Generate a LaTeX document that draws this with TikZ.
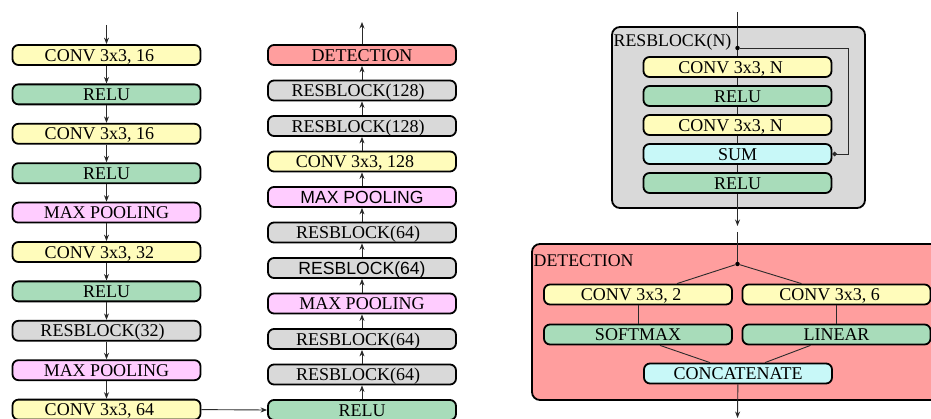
\documentclass[tikz,border=0pt]{standalone}
\usepackage{fontspec}
\setmainfont{Liberation Serif}
\newfontfamily\sansf{Liberation Sans}
\usetikzlibrary{arrows.meta,calc}

\definecolor{cyell}{HTML}{FFFCBB}
\definecolor{cgreen}{HTML}{A8DCBA}
\definecolor{cpink}{HTML}{FFCCFF}
\definecolor{cgray}{HTML}{D9D9D9}
\definecolor{cred}{HTML}{FF9E9E}
\definecolor{ccyan}{HTML}{C8F8F8}
\definecolor{cline}{HTML}{2A2A2A}

\tikzset{
  blk/.style={draw=black, line width=1.8pt, rounded corners=6pt,
    minimum width=188pt, minimum height=20pt, inner sep=0pt,
    text height=12.2pt, text depth=0pt,
    font=\fontsize{18}{20}\selectfont, text=black},
  sansblk/.style={font=\sansf\fontsize{17.6}{20}\selectfont},
  conv/.style={blk, fill=cyell, execute at end node={\hspace*{14pt}}},
  relu/.style={blk, fill=cgreen},
  pool/.style={blk, fill=cpink},
  resb/.style={blk, fill=cgray},
  resbshift/.style={resb, execute at end node={\hspace*{8pt}}},
  detb/.style={blk, fill=cred},
  cyanb/.style={blk, fill=ccyan},
  group/.style={draw=black, line width=1.8pt, rounded corners=8pt, inner sep=0pt},
  grouplabel/.style={anchor=base west, inner sep=0pt, font=\fontsize{17.8}{20}\selectfont},
  link/.style={draw=cline, line width=0.9pt},
  flow/.style={link, -{Stealth[length=6.5pt,width=5pt]}},
  dot/.style={circle, fill=black, inner sep=0pt, minimum size=4.5pt},
}

\begin{document}
\begin{tikzpicture}[x=1pt,y=-1pt]
\useasboundingbox (0,0) rectangle (931,419);
\clip (0,0) rectangle (931,419);

% ---------- left column: input stem ----------
\coordinate (lin) at (106.5,25);
\node[conv]      (l1)  at (106.5,55)    {CONV 3x3, 16};
\node[relu]      (l2)  at (106.5,94.4)  {RELU};
\node[conv]      (l3)  at (106.5,133.8) {CONV 3x3, 16};
\node[relu]      (l4)  at (106.5,173.2) {RELU};
\node[pool]      (l5)  at (106.5,212.6) {MAX POOLING};
\node[conv]      (l6)  at (106.5,252)   {CONV 3x3, 32};
\node[relu]      (l7)  at (106.5,291.4) {RELU};
\node[resbshift] (l8)  at (106.5,330.8) {RESBLOCK(32)};
\node[pool]      (l9)  at (106.5,370.2) {MAX POOLING};
\node[conv]      (l10) at (106.5,409.6) {CONV 3x3, 64};

\draw[flow] (lin) -- (l1);
\foreach \a/\b in {l1/l2,l2/l3,l3/l4,l4/l5,l5/l6,l6/l7,l7/l8,l8/l9,l9/l10}
  \draw[flow] (\a) -- (\b);

% ---------- middle column: upward path ----------
\coordinate (mout) at (362,22);
\node[detb]      (m1)  at (362,55)    {DETECTION};
\node[resbshift] (m2)  at (362,90.5)  {RESBLOCK(128)};
\node[resbshift] (m3)  at (362,126)   {RESBLOCK(128)};
\node[conv]      (m4)  at (362,161.5) {CONV 3x3, 128};
\node[pool,sansblk] (m5) at (362,197) {MAX POOLING};
\node[resbshift] (m6)  at (362,232.5) {RESBLOCK(64)};
\node[resb,sansblk] (m7) at (362,268) {RESBLOCK(64)};
\node[pool]      (m8)  at (362,303.5) {MAX POOLING};
\node[resbshift] (m9)  at (362,339)   {RESBLOCK(64)};
\node[resbshift] (m10) at (362,374.5) {RESBLOCK(64)};
\node[relu]      (m11) at (362,410)   {RELU};

\foreach \a/\b in {m11/m10,m10/m9,m9/m8,m8/m7,m7/m6,m6/m5,m5/m4,m4/m3,m3/m2,m2/m1}
  \draw[flow] (\a) -- (\b);
\draw[flow] (m1) -- (mout);
\draw[flow] (l10.east) -- (m11.west);

% ---------- residual block detail ----------
\node[group, fill=cgray, minimum width=253pt, minimum height=181pt] (rbox) at (738.5,117.5) {};
\node[grouplabel] (rlabel) at (613.5,47) {RESBLOCK(N)};
\coordinate (rin)  at (737.5,12);
\coordinate (rout) at (737.5,226);
\coordinate (rturn) at (848,48);
\draw[flow] (rin) -- (rout);

\node[conv]  (r1) at (737.5,67)  {CONV 3x3, N};
\node[relu]  (r2) at (737.5,96)  {RELU};
\node[conv]  (r3) at (737.5,125) {CONV 3x3, N};
\node[cyanb] (r4) at (737.5,154) {SUM};
\node[relu]  (r5) at (737.5,183) {RELU};

\node[dot] (rdot) at (737.5,48) {};
\draw[link, -{Circle[length=4.5pt]}] (rdot) -- (rturn) |- (r4.east);

% ---------- detection head detail ----------
\node[group, fill=cred, minimum width=411pt, minimum height=156pt] (dbox) at (737.5,322) {};
\node[grouplabel] (dlabel) at (533.5,267) {DETECTION};
\coordinate (din)  at (737.5,232);
\coordinate (dout) at (737.5,418);
\node[dot] (ddot) at (737.5,264) {};

\node[conv]  (d1) at (638,294.5)   {CONV 3x3, 2};
\node[conv]  (d2) at (836.5,294.5) {CONV 3x3, 6};
\node[relu]  (d3) at (638,334.5)   {SOFTMAX};
\node[relu]  (d4) at (836.5,334.5) {LINEAR};
\node[cyanb] (d5) at (738,373.5)   {CONCATENATE};

\draw[link] (din) -- (ddot);
\draw[link] (ddot) -- ([xshift=39pt]d1.north);
\draw[link] (ddot) -- ([xshift=-35pt]d2.north);
\draw[link] (d1) -- (d3);
\draw[link] (d2) -- (d4);
\draw[link] ([xshift=22pt]d3.south) -- ([xshift=-28pt]d5.north);
\draw[link] ([xshift=-26pt]d4.south) -- ([xshift=27pt]d5.north);
\draw[flow] (d5) -- (dout);
\end{tikzpicture}
\end{document}
